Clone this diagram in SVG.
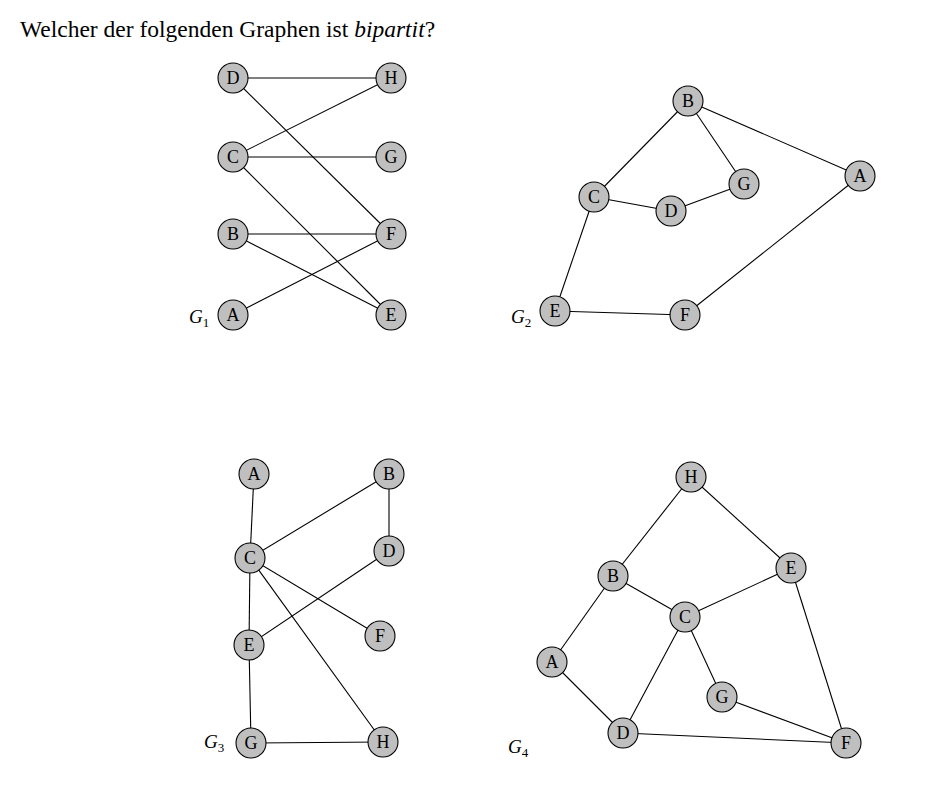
<svg xmlns="http://www.w3.org/2000/svg" width="952" height="795" viewBox="0 0 952 795">
<style>
.e{stroke:#000;stroke-width:1.1;fill:none}
.n circle{fill:#bfbfbf;stroke:#000;stroke-width:1.1}
.n text{font-family:"Liberation Serif",serif;font-size:18px;text-anchor:middle;fill:#000}
.lab{font-family:"Liberation Serif",serif;font-style:italic;font-size:19px;fill:#000}
.sub{font-family:"Liberation Serif",serif;font-size:13px;fill:#000}
.title{font-family:"Liberation Serif",serif;font-size:23.5px;fill:#000}
</style>
<rect width="952" height="795" fill="#fff"/>
<text class="title" x="20" y="37">Welcher der folgenden Graphen ist <tspan font-style="italic">bipartit</tspan>?</text>

<g id="connectors">
<!-- G1 -->
<line class="e" x1="233" y1="78" x2="391" y2="78"/>
<line class="e" x1="233" y1="78" x2="391" y2="234"/>
<line class="e" x1="233" y1="157" x2="391" y2="78"/>
<line class="e" x1="233" y1="157" x2="391" y2="157"/>
<line class="e" x1="233" y1="157" x2="391" y2="315"/>
<line class="e" x1="233" y1="234" x2="391" y2="234"/>
<line class="e" x1="233" y1="234" x2="391" y2="315"/>
<line class="e" x1="233" y1="315" x2="391" y2="234"/>
<!-- G2 -->
<line class="e" x1="688" y1="101" x2="594" y2="197"/>
<line class="e" x1="688" y1="101" x2="744" y2="184"/>
<line class="e" x1="688" y1="101" x2="860" y2="176"/>
<line class="e" x1="594" y1="197" x2="671" y2="211"/>
<line class="e" x1="671" y1="211" x2="744" y2="184"/>
<line class="e" x1="594" y1="197" x2="555" y2="311"/>
<line class="e" x1="555" y1="311" x2="685" y2="315"/>
<line class="e" x1="685" y1="315" x2="860" y2="176"/>
<!-- G3 -->
<line class="e" x1="254" y1="474" x2="250" y2="558"/>
<line class="e" x1="250" y1="558" x2="389" y2="474"/>
<line class="e" x1="389" y1="474" x2="389" y2="551"/>
<line class="e" x1="250" y1="558" x2="380" y2="636"/>
<line class="e" x1="250" y1="558" x2="249" y2="645"/>
<line class="e" x1="250" y1="558" x2="383" y2="742"/>
<line class="e" x1="389" y1="551" x2="249" y2="645"/>
<line class="e" x1="249" y1="645" x2="251" y2="743"/>
<line class="e" x1="251" y1="743" x2="383" y2="742"/>
<!-- G4 -->
<line class="e" x1="691" y1="477" x2="613" y2="576"/>
<line class="e" x1="691" y1="477" x2="791" y2="568"/>
<line class="e" x1="613" y1="576" x2="685" y2="617"/>
<line class="e" x1="685" y1="617" x2="791" y2="568"/>
<line class="e" x1="613" y1="576" x2="552" y2="662"/>
<line class="e" x1="552" y1="662" x2="623" y2="733"/>
<line class="e" x1="685" y1="617" x2="623" y2="733"/>
<line class="e" x1="685" y1="617" x2="722" y2="697"/>
<line class="e" x1="722" y1="697" x2="846" y2="743"/>
<line class="e" x1="623" y1="733" x2="846" y2="743"/>
<line class="e" x1="791" y1="568" x2="846" y2="743"/>
</g>

<!-- G1 nodes -->
<g id="g1-D" class="n"><circle cx="233" cy="78" r="15"/><text x="233" y="84">D</text></g>
<g id="g1-H" class="n"><circle cx="391" cy="78" r="15"/><text x="391" y="84">H</text></g>
<g id="g1-C" class="n"><circle cx="233" cy="157" r="15"/><text x="233" y="163">C</text></g>
<g id="g1-G" class="n"><circle cx="391" cy="157" r="15"/><text x="391" y="163">G</text></g>
<g id="g1-B" class="n"><circle cx="233" cy="234" r="15"/><text x="233" y="240">B</text></g>
<g id="g1-F" class="n"><circle cx="391" cy="234" r="15"/><text x="391" y="240">F</text></g>
<g id="g1-A" class="n"><circle cx="233" cy="315" r="15"/><text x="233" y="321">A</text></g>
<g id="g1-E" class="n"><circle cx="391" cy="315" r="15"/><text x="391" y="321">E</text></g>
<text class="lab" x="189" y="323">G<tspan class="sub" font-style="normal" dy="4">1</tspan></text>

<!-- G2 nodes -->
<g id="g2-B" class="n"><circle cx="688" cy="101" r="15"/><text x="688" y="107">B</text></g>
<g id="g2-A" class="n"><circle cx="860" cy="176" r="15"/><text x="860" y="182">A</text></g>
<g id="g2-G" class="n"><circle cx="744" cy="184" r="15"/><text x="744" y="190">G</text></g>
<g id="g2-C" class="n"><circle cx="594" cy="197" r="15"/><text x="594" y="203">C</text></g>
<g id="g2-D" class="n"><circle cx="671" cy="211" r="15"/><text x="671" y="217">D</text></g>
<g id="g2-E" class="n"><circle cx="555" cy="311" r="15"/><text x="555" y="317">E</text></g>
<g id="g2-F" class="n"><circle cx="685" cy="315" r="15"/><text x="685" y="321">F</text></g>
<text class="lab" x="511" y="323">G<tspan class="sub" font-style="normal" dy="4">2</tspan></text>

<!-- G3 nodes -->
<g id="g3-A" class="n"><circle cx="254" cy="474" r="15"/><text x="254" y="480">A</text></g>
<g id="g3-B" class="n"><circle cx="389" cy="474" r="15"/><text x="389" y="480">B</text></g>
<g id="g3-C" class="n"><circle cx="250" cy="558" r="15"/><text x="250" y="564">C</text></g>
<g id="g3-D" class="n"><circle cx="389" cy="551" r="15"/><text x="389" y="557">D</text></g>
<g id="g3-F" class="n"><circle cx="380" cy="636" r="15"/><text x="380" y="642">F</text></g>
<g id="g3-E" class="n"><circle cx="249" cy="645" r="15"/><text x="249" y="651">E</text></g>
<g id="g3-G" class="n"><circle cx="251" cy="743" r="15"/><text x="251" y="749">G</text></g>
<g id="g3-H" class="n"><circle cx="383" cy="742" r="15"/><text x="383" y="748">H</text></g>
<text class="lab" x="204" y="748">G<tspan class="sub" font-style="normal" dy="4">3</tspan></text>

<!-- G4 nodes -->
<g id="g4-H" class="n"><circle cx="691" cy="477" r="15"/><text x="691" y="483">H</text></g>
<g id="g4-E" class="n"><circle cx="791" cy="568" r="15"/><text x="791" y="574">E</text></g>
<g id="g4-B" class="n"><circle cx="613" cy="576" r="15"/><text x="613" y="582">B</text></g>
<g id="g4-C" class="n"><circle cx="685" cy="617" r="15"/><text x="685" y="623">C</text></g>
<g id="g4-A" class="n"><circle cx="552" cy="662" r="15"/><text x="552" y="668">A</text></g>
<g id="g4-G" class="n"><circle cx="722" cy="697" r="15"/><text x="722" y="703">G</text></g>
<g id="g4-D" class="n"><circle cx="623" cy="733" r="15"/><text x="623" y="739">D</text></g>
<g id="g4-F" class="n"><circle cx="846" cy="743" r="15"/><text x="846" y="749">F</text></g>
<text class="lab" x="508" y="753">G<tspan class="sub" font-style="normal" dy="4">4</tspan></text>
</svg>
